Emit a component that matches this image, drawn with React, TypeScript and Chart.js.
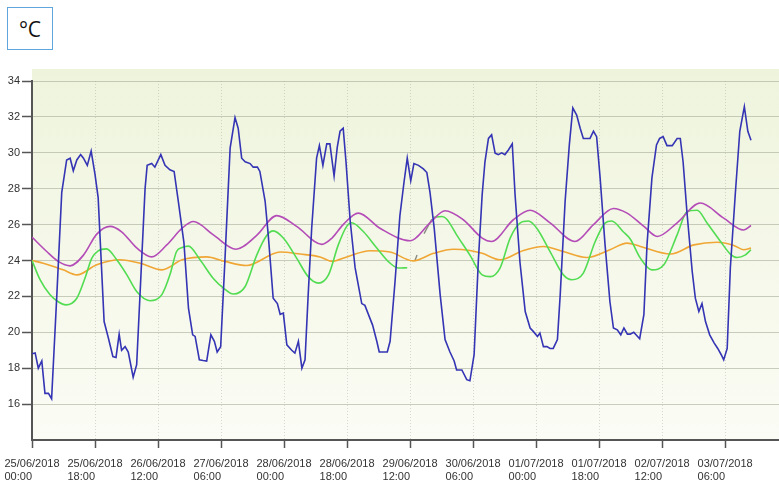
import React, { useEffect, useRef } from 'react';
import { Chart, registerables } from 'chart.js';

Chart.register(...registerables);

// x values are hours since 25/06/2018 00:00
const xTickHours = [0, 18, 36, 54, 72, 90, 108, 126, 144, 162, 180, 198];
const xTickDates = ['25/06/2018', '25/06/2018', '26/06/2018', '27/06/2018', '28/06/2018', '28/06/2018', '29/06/2018', '30/06/2018', '01/07/2018', '01/07/2018', '02/07/2018', '03/07/2018'];
const xTickTimes = ['00:00', '18:00', '12:00', '06:00', '00:00', '18:00', '12:00', '06:00', '00:00', '18:00', '12:00', '06:00'];
const yTicks = [16, 18, 20, 22, 24, 26, 28, 30, 32, 34];

const blueHours = [0, 0.9, 1.8, 2.8, 3.7, 4.7, 5.6, 7.1, 8.5, 9.9, 10.9, 11.8, 12.8, 13.9, 14.7, 15.8, 16.9, 18.0, 18.9, 20.6, 21.8, 23.1, 24.0, 24.9, 25.6, 26.6, 27.5, 28.9, 29.9, 31.3, 32.3, 32.9, 34.2, 35.1, 36.8, 38.0, 39.4, 40.6, 41.8, 43.4, 44.7, 45.9, 46.6, 47.8, 48.9, 49.9, 51.1, 52.1, 52.9, 53.9, 55.1, 56.6, 58.0, 58.9, 59.9, 60.9, 62.3, 63.2, 64.4, 65.1, 66.6, 67.5, 68.9, 70.1, 70.9, 71.8, 72.8, 74.2, 75.1, 76.1, 77.1, 78.0, 78.9, 79.9, 81.3, 82.1, 83.1, 84.2, 85.1, 86.3, 87.2, 88.0, 88.9, 89.7, 90.9, 92.3, 94.2, 95.1, 96.1, 97.3, 98.5, 99.2, 100.4, 101.5, 102.3, 103.7, 105.1, 106.3, 107.2, 108.2, 109.1, 110.4, 111.8, 112.8, 113.7, 114.9, 116.6, 118.0, 119.4, 120.6, 121.3, 122.8, 124.2, 125.1, 126.3, 127.5, 128.6, 129.4, 130.4, 131.3, 132.3, 133.2, 134.2, 135.1, 136.1, 137.2, 138.0, 139.4, 140.9, 142.3, 143.2, 144.4, 145.1, 146.1, 147.1, 148.0, 148.9, 150.1, 150.9, 152.3, 153.5, 154.5, 155.6, 156.6, 157.5, 158.7, 159.4, 160.4, 161.3, 162.3, 163.7, 165.1, 166.1, 167.2, 168.2, 169.1, 170.1, 170.9, 171.9, 173.6, 174.8, 175.7, 177.1, 178.4, 179.3, 180.3, 181.4, 182.9, 184.3, 185.2, 186.0, 187.1, 188.6, 189.5, 190.5, 191.4, 192.4, 193.6, 194.9, 195.9, 196.9, 197.6, 198.6, 199.5, 200.9, 202.2, 203.5, 204.5, 205.4];
const blueValues = [18.8, 18.85, 18.0, 18.4, 16.6, 16.6, 16.3, 22.1, 27.8, 29.6, 29.7, 29.0, 29.6, 29.9, 29.7, 29.3, 30.1, 28.8, 27.5, 20.6, 19.7, 18.65, 18.6, 19.9, 19.0, 19.2, 18.9, 17.5, 18.2, 23.9, 28.0, 29.3, 29.4, 29.2, 29.9, 29.3, 29.05, 28.96, 27.3, 25.0, 21.35, 19.86, 19.77, 18.47, 18.43, 18.4, 19.86, 19.5, 18.9, 19.2, 23.95, 30.26, 31.96, 31.37, 29.7, 29.5, 29.4, 29.2, 29.2, 28.96, 27.3, 25.4, 21.9, 21.6, 21.0, 21.07, 19.3, 19.0, 18.84, 19.5, 18.0, 18.47, 22.1, 25.8, 29.7, 30.4, 29.3, 30.5, 30.5, 28.7, 30.3, 31.2, 31.37, 29.5, 26.2, 23.6, 21.6, 21.5, 21.0, 20.4, 19.5, 18.9, 18.9, 18.9, 19.5, 22.8, 26.5, 28.4, 29.7, 28.44, 29.4, 29.3, 29.1, 28.9, 27.8, 25.8, 22.1, 19.6, 18.9, 18.4, 17.9, 17.9, 17.36, 17.3, 18.75, 23.95, 27.66, 29.5, 30.8, 31.0, 29.98, 29.9, 30.0, 29.9, 30.16, 30.5, 27.66, 23.9, 21.16, 20.24, 20.05, 19.77, 19.96, 19.2, 19.2, 19.1, 19.1, 19.6, 22.1, 27.3, 30.44, 32.5, 32.1, 31.37, 30.8, 30.8, 30.8, 31.2, 30.9, 28.6, 24.9, 21.7, 20.24, 20.14, 19.86, 20.24, 19.9, 19.9, 20.0, 19.64, 20.98, 24.9, 28.6, 30.44, 30.8, 30.9, 30.4, 30.4, 30.8, 30.8, 29.5, 26.7, 23.4, 21.9, 21.16, 21.6, 20.6, 19.86, 19.4, 19.1, 18.75, 18.47, 19.1, 23.6, 27.66, 31.2, 32.57, 31.2, 30.7];

const magentaHours = [0, 4.2, 7.5, 10.9, 14.7, 18.5, 22.3, 25.6, 29.9, 34.2, 38.5, 42.9, 46.1, 51.8, 58.3, 64.2, 69.9, 75.6, 82.8, 85.7, 88.9, 93.2, 99.4, 108, 113.7, 118, 123.2, 128.6, 131.3, 137.5, 142.3, 148, 155.1, 160.4, 166.1, 170, 174.8, 178.6, 184.3, 190.9, 197.6, 203.3, 205.4];
const magentaValues = [25.3, 24.5, 23.95, 23.7, 24.3, 25.47, 25.9, 25.6, 24.7, 24.2, 24.87, 25.8, 26.17, 25.43, 24.63, 25.4, 26.5, 25.9, 24.9, 25.25, 26.0, 26.64, 25.8, 25.1, 26.1, 26.77, 26.27, 25.25, 25.06, 26.27, 26.8, 26.1, 25.06, 26.0, 26.9, 26.64, 25.9, 25.34, 26.1, 27.2, 26.36, 25.7, 25.95];

const orangeHours = [0, 3.2, 8.9, 12.8, 18.5, 25.1, 30.9, 37.1, 42.9, 49.9, 55.1, 61.3, 70.9, 76.6, 82.3, 85.7, 89.9, 96.6, 102.3, 108.9, 114.7, 120.4, 125.1, 128.6, 133.7, 140.4, 146.1, 151.8, 158.5, 165.1, 170, 173.8, 182.4, 189.1, 195.7, 200.5, 203.3, 205.4];
const orangeValues = [24.0, 23.85, 23.48, 23.2, 23.76, 24.04, 23.85, 23.48, 24.04, 24.2, 23.95, 23.72, 24.47, 24.36, 24.2, 23.95, 24.2, 24.54, 24.47, 23.98, 24.4, 24.63, 24.56, 24.4, 24.04, 24.56, 24.78, 24.5, 24.17, 24.6, 24.97, 24.78, 24.36, 24.87, 25.02, 24.84, 24.6, 24.69];

const greenHours = [0, 2.3, 5.1, 7.5, 9.7, 12.8, 15.1, 17.1, 18.9, 21.3, 24.2, 27.1, 29.9, 33.7, 37.1, 39.4, 41.3, 42.9, 44.7, 48, 51.8, 54.7, 57.5, 60.9, 64.2, 67.2, 68.9, 71.8, 75.6, 78.9, 81.8, 84.7, 87.5, 89.9, 91.3, 94.7, 98.5, 102.3, 104.7, 107.2, 110, 114.7, 117.1, 118.5, 121.3, 125.1, 128.6, 130.9, 133.7, 136.6, 139.4, 141.8, 144.2, 148, 151.8, 154.2, 157.5, 160.9, 163.7, 165.6, 168.9, 170.9, 173.8, 177.1, 180.5, 184.3, 187.1, 190, 192.9, 196.7, 199.5, 201.4, 203.7, 205.4];
const greenValues = [24.0, 22.93, 22.1, 21.7, 21.53, 21.9, 23.0, 24.13, 24.54, 24.65, 24.04, 23.2, 22.27, 21.76, 22.1, 23.2, 24.5, 24.72, 24.8, 24.04, 23.0, 22.46, 22.13, 22.55, 24.3, 25.43, 25.65, 25.25, 24.13, 23.1, 22.74, 23.2, 24.87, 25.9, 26.1, 25.6, 24.7, 23.85, 23.58, 23.6, null, 26.4, 26.45, 26.3, 25.43, 24.3, 23.2, 23.1, 23.58, 25.25, 26.08, 26.2, 25.8, 24.5, 23.2, 22.93, 23.3, 25.06, 26.08, 26.2, 25.6, 25.2, 24.13, 23.48, 23.76, 25.43, 26.72, 26.8, 26.08, 25.06, 24.36, 24.17, 24.3, 24.6];

const greyHours = [109.4, 110.0, 110.6, 112.0, 114.2];
const greyValues = [24.0, 24.3, null, 25.5, 26.3];

const toPoints = (hours: number[], values: (number | null)[]) =>
  hours.map((h, i) => ({ x: h, y: values[i] }));

const bgPlugin = {
  id: 'plotBg',
  beforeDraw(chart: any) {
    const { ctx, chartArea } = chart;
    if (!chartArea) return;
    const top = chartArea.top - 12;
    const g = ctx.createLinearGradient(0, top, 0, chartArea.bottom);
    g.addColorStop(0, '#eef4dc');
    g.addColorStop(0.5, '#f5f8e9');
    g.addColorStop(1, '#fbfcf5');
    ctx.save();
    ctx.fillStyle = g;
    ctx.fillRect(chartArea.left, top, chartArea.right - chartArea.left, chartArea.bottom - top);
    ctx.restore();
  },
};

export default function App() {
  const ref = useRef<HTMLCanvasElement | null>(null);

  useEffect(() => {
    if (!ref.current) return;
    const font = { family: '"Liberation Sans", Arial, sans-serif', size: 11 };
    const chart = new Chart(ref.current, {
      type: 'line',
      data: {
        datasets: [
          { data: toPoints(blueHours, blueValues), borderColor: '#3434b4', borderWidth: 1.6, pointRadius: 0, tension: 0 },
          { data: toPoints(magentaHours, magentaValues), borderColor: '#b44cb8', borderWidth: 1.6, pointRadius: 0, cubicInterpolationMode: 'monotone' },
          { data: toPoints(greenHours, greenValues), borderColor: '#52dc52', borderWidth: 1.6, pointRadius: 0, cubicInterpolationMode: 'monotone', spanGaps: false },
          { data: toPoints(orangeHours, orangeValues), borderColor: '#f0a634', borderWidth: 1.6, pointRadius: 0, cubicInterpolationMode: 'monotone' },
          { data: toPoints(greyHours, greyValues), borderColor: '#8a8a84', borderWidth: 1.4, pointRadius: 0, spanGaps: false },
        ] as any,
      },
      options: {
        responsive: false,
        animation: false,
        devicePixelRatio: 1,
        layout: { padding: { top: 81, left: 0, right: 0, bottom: 0 } },
        plugins: { legend: { display: false }, tooltip: { enabled: false } },
        scales: {
          x: {
            type: 'linear',
            min: 0,
            max: 213.4,
            afterBuildTicks: (scale: any) => {
              scale.ticks = xTickHours.map((v) => ({ value: v }));
            },
            afterFit: (scale: any) => {
              scale.height = 41;
              scale.paddingLeft = 0;
              scale.paddingRight = 0;
            },
            ticks: {
              autoSkip: false,
              maxRotation: 0,
              minRotation: 0,
              padding: 9,
              color: '#333',
              font,
              callback: (_v: any, i: number) => [xTickDates[i], xTickTimes[i] + '         '],
            },
            grid: {
              color: 'rgba(150,150,140,0.35)',
              lineWidth: 1,
              tickLength: 8,
              tickColor: '#555',
              tickWidth: 1.5,
            },
            border: { color: '#555', width: 2, dash: [1, 2] },
          },
          y: {
            type: 'linear',
            min: 14,
            max: 34,
            afterBuildTicks: (scale: any) => {
              scale.ticks = yTicks.map((v) => ({ value: v }));
            },
            afterFit: (scale: any) => {
              scale.width = 32;
            },
            ticks: { padding: 2, color: '#333', font },
            grid: {
              color: 'rgba(160,165,145,0.55)',
              lineWidth: 1,
              tickLength: 10,
              tickColor: '#555',
              tickWidth: 1.5,
            },
            border: { color: '#555', width: 2 },
          },
        },
      } as any,
      plugins: [bgPlugin],
    });
    return () => chart.destroy();
  }, []);

  return (
    <div style={{ position: 'absolute', left: 0, top: 0, width: 779, height: 481, background: '#fff', overflow: 'hidden' }}>
      <canvas ref={ref} width={779} height={481} style={{ position: 'absolute', left: 0, top: 0, width: 779, height: 481 }} />
      <div
        style={{
          position: 'absolute',
          left: 7,
          top: 7,
          width: 46,
          height: 43,
          boxSizing: 'border-box',
          border: '1.5px solid #5ea6dc',
          display: 'flex',
          alignItems: 'center',
          justifyContent: 'center',
          fontFamily: '"Open Sans", "Noto Sans", sans-serif',
          fontSize: 21,
          color: '#111',
          background: '#fff',
        }}
      >
        °C
      </div>
    </div>
  );
}
